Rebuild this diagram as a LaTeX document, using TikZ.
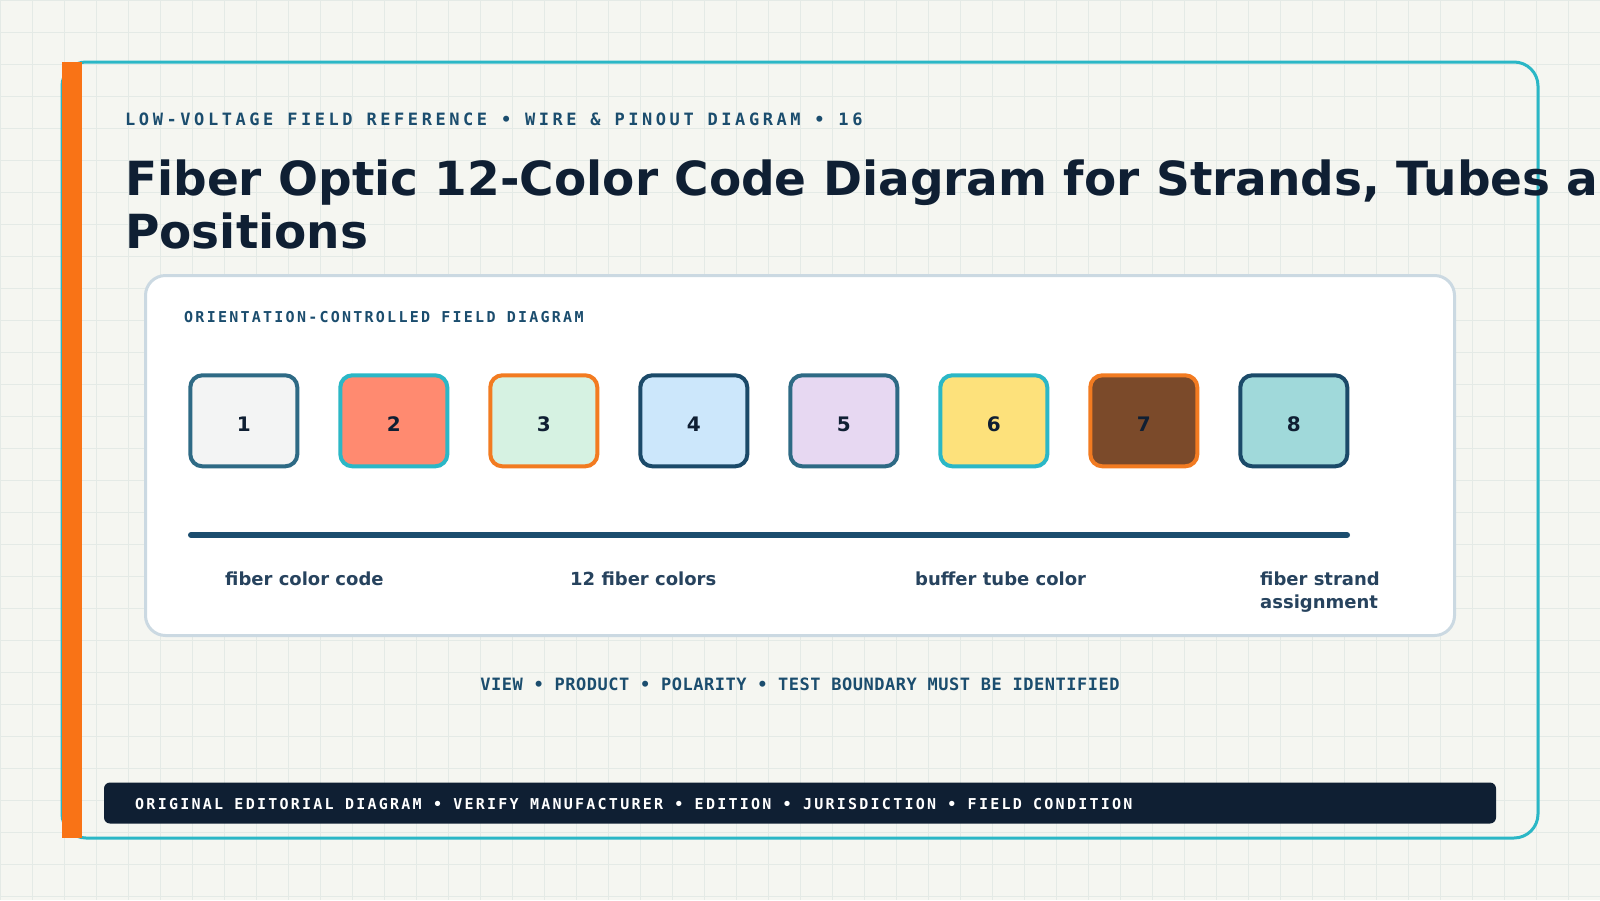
\documentclass[tikz,border=0pt]{standalone}
\usepackage{fontspec}
\setmainfont{DejaVu Sans}
\newfontfamily\kickerfont[LetterSpace=21]{DejaVu Sans Mono}
\newfontfamily\capsfont[LetterSpace=15]{DejaVu Sans Mono}
\newfontfamily\notefont[LetterSpace=3]{DejaVu Sans Mono}

\definecolor{paper}{HTML}{F5F6F1}
\definecolor{gridc}{HTML}{E4EAE6}
\definecolor{cyanedge}{HTML}{2BB7C6}
\definecolor{accent}{HTML}{F97316}
\definecolor{ink}{HTML}{0F1F33}
\definecolor{slate}{HTML}{1B4D6E}
\definecolor{panelrim}{HTML}{CBD9E2}
\definecolor{labelink}{HTML}{27435E}
\definecolor{steel}{HTML}{2E6A85}
\definecolor{orangeedge}{HTML}{F27B21}
\definecolor{navy}{HTML}{1B4A69}
\definecolor{fibA}{HTML}{F3F4F4}
\definecolor{fibB}{HTML}{FF8A70}
\definecolor{fibC}{HTML}{D6F2E2}
\definecolor{fibD}{HTML}{CCE7FB}
\definecolor{fibE}{HTML}{E7D8F2}
\definecolor{fibF}{HTML}{FDE17B}
\definecolor{fibG}{HTML}{7B4A2A}
\definecolor{fibH}{HTML}{A0D9DA}

\tikzset{
  gridline/.style={gridc, line width=1},
  kicker/.style={anchor=base west, inner sep=0, text=slate,
    font=\kickerfont\bfseries\fontsize{17}{20}\selectfont},
  caps/.style={anchor=base west, inner sep=0, text=slate,
    font=\capsfont\bfseries\fontsize{15}{18}\selectfont},
  notetext/.style={anchor=base, inner sep=0, text=slate,
    font=\notefont\bfseries\fontsize{17}{20}\selectfont},
  headline/.style={anchor=base west, inner sep=0, text=ink,
    font=\bfseries\fontsize{47}{53}\selectfont},
  panelbox/.style={fill=white, draw=panelrim, line width=3, rounded corners=20},
  fiberbox/.style={rectangle, rounded corners=12, line width=4,
    minimum width=107, minimum height=91, text=ink,
    text height=20.5, text depth=0,
    font=\bfseries\fontsize{20}{24}\selectfont},
  bus/.style={slate, line width=6, line cap=round},
  strandlabel/.style={anchor=base west, inner sep=0, text=labelink, align=left,
    font=\bfseries\fontsize{18}{23}\selectfont},
  footbar/.style={fill=ink, rounded corners=6, minimum width=1392,
    minimum height=41, inner sep=0}
}

\begin{document}
\begin{tikzpicture}[x=1pt, y=-1pt]
    \useasboundingbox (0,0) rectangle (1600,900);
    \clip (0,0) rectangle (1600,900);
    \fill[paper] (0,0) rectangle (1600,900);
    \foreach \g in {0,32,...,1600} \draw[gridline] (\g,0) -- (\g,900);
    \foreach \g in {0,32,...,896} \draw[gridline] (0,\g) -- (1600,\g);

    % frame and accent bar
    \draw[cyanedge, line width=3, rounded corners=24] (62,62) rectangle (1538,838);
    \fill[accent] (62,62) rectangle (82,838);

    \node[kicker] (kicker) at (125,125) {LOW-VOLTAGE FIELD REFERENCE • WIRE \& PINOUT DIAGRAM • 16};
    \node[headline] (title) at (125,195) {Fiber Optic 12-Color Code Diagram for Strands, Tubes and};
    \node[headline] (title2) at (125,248) {Positions};

    % diagram panel
    \draw[panelbox] (145.5,275.5) rectangle (1454.5,635.5);
    \node[caps] (panelhead) at (184,322) {ORIENTATION-CONTROLLED FIELD DIAGRAM};

    \foreach \i/\fc/\ec in {1/fibA/steel, 2/fibB/cyanedge, 3/fibC/orangeedge, 4/fibD/navy,
                            5/fibE/steel, 6/fibF/cyanedge, 7/fibG/orangeedge, 8/fibH/navy}
        \node[fiberbox, fill=\fc, draw=\ec] (box\i) at ({243.8+150*(\i-1)},420.8) {\i};

    \coordinate (busL) at (191,535);
    \coordinate (busR) at (1347,535);
    \draw[bus] (busL) -- (busR);

    \node[strandlabel] (lblcode) at (225,585) {fiber color code};
    \node[strandlabel] (lblcolors) at (570,585) {12 fiber colors};
    \node[strandlabel] (lbltube) at (915,585) {buffer tube color};
    \node[strandlabel] (lblassign) at (1260,608) {fiber strand\\assignment};

    \node[notetext] (note) at (800,690) {VIEW • PRODUCT • POLARITY • TEST BOUNDARY MUST BE IDENTIFIED};

    \node[footbar] (footer) at (800,803) {};
    \node[caps, text=white] (foottext) at (135,809) {ORIGINAL EDITORIAL DIAGRAM • VERIFY MANUFACTURER • EDITION • JURISDICTION • FIELD CONDITION};
\end{tikzpicture}
\end{document}
